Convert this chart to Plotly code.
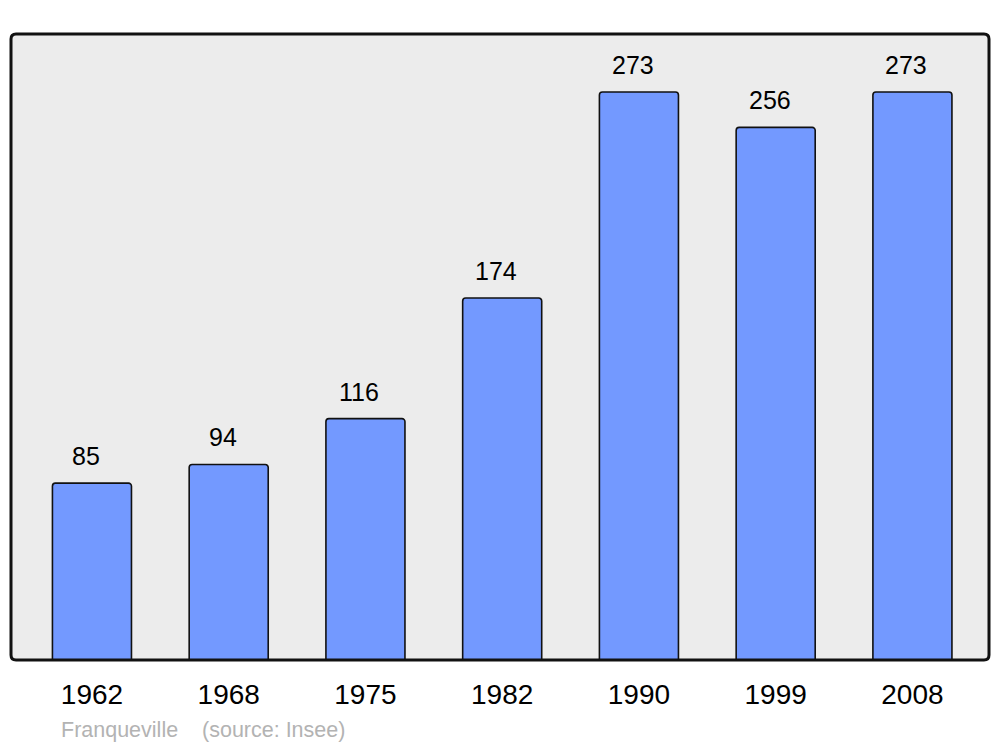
import plotly.graph_objects as go

years = ["1962", "1968", "1975", "1982", "1990", "1999", "2008"]
population = [85, 94, 116, 174, 273, 256, 273]
caption = "Franqueville    (source: Insee)"

# page body adds an 8px offset; compensate
W, H = 984, 739
ml, mr, mt, mb = 3, 3, 26, 87

xpos = list(range(len(years)))
FONT = "Liberation Sans, Arial, sans-serif"

fig = go.Figure()
fig.add_trace(go.Bar(
    x=xpos, y=population, width=0.578,
    marker=dict(color="#7399ff", line=dict(color="#111111", width=1.6), cornerradius=3),
    hoverinfo="skip",
))

for xi, v in zip(xpos, population):
    fig.add_annotation(x=xi, y=v, text=str(v), showarrow=False, xshift=-6, yshift=27,
                       yanchor="middle", font=dict(size=25, color="#000000", family=FONT))

fig.add_annotation(xref="paper", yref="paper", x=48/978, y=0, yshift=-70, xanchor="left", yanchor="middle",
                   text=caption, showarrow=False,
                   font=dict(size=21.5, color="#b3b3b3", family=FONT))

pw, ph = W - ml - mr, H - mt - mb
rx, ry = 5 / pw, 5 / ph
path = (f"M {rx},0 L {1-rx},0 Q 1,0 1,{ry} L 1,{1-ry} Q 1,1 {1-rx},1 "
        f"L {rx},1 Q 0,1 0,{1-ry} L 0,{ry} Q 0,0 {rx},0 Z")
fig.add_shape(type="path", xref="paper", yref="paper", path=path,
              line=dict(color="#111111", width=3), layer="above")

fig.update_layout(
    width=W, height=H,
    margin=dict(l=ml, r=mr, t=mt, b=mb),
    paper_bgcolor="#ffffff", plot_bgcolor="#ececec",
    showlegend=False,
    font=dict(family=FONT, color="#000000"),
    xaxis=dict(range=[-0.592, 6.56], tickmode="array", tickvals=xpos, ticktext=years,
               showgrid=False, zeroline=False, showline=False, ticks="",
               tickfont=dict(size=28, color="#000000"), ticklabelstandoff=15),
    yaxis=dict(range=[0, 300.9], visible=False, showgrid=False, zeroline=False),
)

fig.write_html("out.html")
